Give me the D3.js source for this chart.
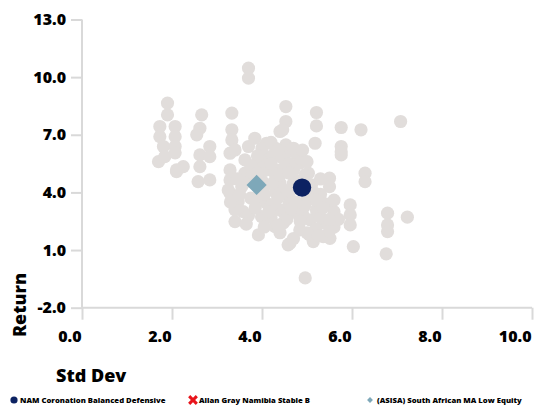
<!DOCTYPE html>
<html><head><meta charset="utf-8">
<script src="https://cdn.jsdelivr.net/npm/d3@7"></script>
<style>
html,body{margin:0;padding:0;background:#fff;}
text{font-family:"Open Sans",sans-serif;font-weight:800;fill:#000;}
</style></head>
<body><svg id="c" width="546" height="410"></svg>
<script>
// ---- data ----
const peerStdDev = [3.70,3.70,1.90,1.90,1.73,2.07,1.73,2.07,1.81,2.07,2.07,1.70,1.84,2.10,2.25,2.66,2.62,2.55,2.62,2.84,2.84,2.62,2.58,2.84,3.33,3.33,3.33,3.29,3.84,4.10,3.70,4.40,4.53,4.53,4.46,5.21,5.21,5.76,6.20,7.08,5.18,5.76,5.76,4.53,4.53,4.84,5.03,5.50,5.50,6.29,6.29,5.96,5.96,5.96,6.03,6.79,6.79,6.79,7.23,6.76,4.96,5.36,5.14,4.62,5.51,3.40,3.92,3.58,3.47,3.29,3.99,4.29,4.58,4.47,4.84,3.84,4.10,4.40,4.77,5.07,5.21,2.10,3.29,3.29,3.25,3.40,3.62,3.62,3.55,3.99,3.96,4.77,4.84,4.40,4.18,4.10,4.40,4.70,4.40,4.70,5.76,4.30,4.60,4.20,4.60,5.00,5.30,5.40,5.60,5.40,5.60,5.20,4.90,4.50,4.20,3.70,4.00,4.30,4.00,4.60,4.30,3.80,3.50,5.10,5.30,5.60,5.70,5.50,5.05,4.40,4.70,3.85,
  4.00,4.20,4.35,4.70,4.90,5.00,4.95,4.20,4.50,3.90,3.75,3.75,4.05,4.25,4.55,4.75,5.15,5.20,4.95,4.75,4.35,4.05,3.75,3.60,3.45,4.15,4.55,4.85,5.30,5.50,5.35,4.35,4.05,3.65,3.40,3.30,4.65,5.00,5.25,4.40,4.60,3.90];
const peerReturn = [10.47,9.95,8.65,8.04,7.43,7.43,6.90,6.90,6.39,6.39,6.06,5.60,5.86,5.08,5.34,8.04,7.34,7.00,5.95,6.39,5.86,5.34,4.56,4.65,8.13,7.26,6.73,6.04,6.82,6.56,6.39,7.17,8.47,7.69,7.26,8.16,7.46,7.38,7.26,7.69,6.56,6.39,6.12,6.47,6.04,5.86,5.00,4.74,4.30,5.00,4.56,3.35,2.83,2.31,1.18,2.92,2.31,1.96,2.71,0.80,-0.45,1.70,1.44,1.35,1.61,2.48,1.79,3.00,3.52,3.96,2.74,2.22,1.27,2.40,2.05,3.61,3.44,3.09,2.92,2.57,3.09,5.17,5.17,4.65,4.13,6.21,5.69,5.00,4.30,6.04,5.34,5.99,5.52,5.86,5.86,5.17,5.17,5.17,4.48,4.48,5.95,4.00,3.80,3.30,3.40,3.60,3.90,3.40,3.00,2.40,2.20,2.10,2.90,2.90,2.70,2.80,4.60,6.30,5.60,5.50,4.90,4.90,3.90,4.40,4.70,3.60,2.60,2.00,1.80,1.90,1.60,3.20,
  6.30,6.60,6.20,6.30,6.20,5.60,4.90,5.50,5.30,5.90,5.40,4.80,4.30,4.50,4.10,4.60,4.00,3.60,3.30,3.50,3.70,3.90,3.70,4.50,4.70,3.00,2.60,2.50,2.70,2.60,3.20,2.30,2.20,2.35,3.10,3.50,3.15,1.90,1.75,4.90,5.00,5.00];
const fundName = "NAM Coronation Balanced Defensive";
const fundPoint = [4.89, 4.25];
const benchName = "Allan Gray Namibia Stable B";
const sectorName = "(ASISA) South African MA Low Equity";
const sectorPoint = [3.88, 4.39];
const xTicks = [0,2,4,6,8,10];
const yTicks = [-2,1,4,7,10,13];
const xTitle = "Std Dev", yTitle = "Return";

// ---- drawing ----
const svg = d3.select("#c");
const x = d3.scaleLinear().domain([0,10]).range([82,532]);
const y = d3.scaleLinear().domain([-2,13]).range([307.7,19.5]);
const axisCol = "#d9d9d9";
const fmt = v => d3.format(".1f")(v).replace("\u2212","-");

const gy = svg.append("g").attr("transform","translate(82,0)")
  .call(d3.axisLeft(y).tickValues(yTicks).tickFormat(fmt).tickSize(11).tickPadding(5));
const gx = svg.append("g").attr("transform","translate(0,307.7)")
  .call(d3.axisBottom(x).tickValues(xTicks).tickFormat(fmt).tickSize(12));
[gy,gx].forEach(g=>{
  g.select(".domain").attr("stroke",axisCol).attr("stroke-width",2);
  g.selectAll(".tick line").attr("stroke",axisCol).attr("stroke-width",2);
  g.selectAll("text").attr("font-family","Open Sans, sans-serif").attr("font-weight",800)
    .attr("font-size",16).attr("fill","#000");
});
gy.select(".domain").attr("d","M0,"+y(13)+"V"+y(-2));
gx.select(".domain").attr("d","M"+x(0)+",0H"+x(10));
gx.selectAll("text").attr("text-anchor","end").attr("x",-1).attr("y",34).attr("dy",0);

svg.append("text").attr("x",56).attr("y",382).attr("font-size",18).text(xTitle);
svg.append("text").attr("transform","translate(26,305) rotate(-90)").attr("text-anchor","middle")
  .attr("font-size",18).text(yTitle);

const peers = peerStdDev.map((d,i)=>[d,peerReturn[i]]);
svg.append("g").selectAll("circle").data(peers).join("circle")
  .attr("cx",d=>x(d[0])).attr("cy",d=>y(d[1])).attr("r",6.6).attr("fill","#e1dddb");

svg.append("path").attr("d",d3.symbol(d3.symbolDiamond2,260)())
  .attr("transform",`translate(${x(sectorPoint[0])},${y(sectorPoint[1])})`).attr("fill","#7ea8b9");
svg.append("circle").attr("cx",x(fundPoint[0])).attr("cy",y(fundPoint[1])).attr("r",9.2).attr("fill","#0c2262");

// legend
const lg = svg.append("g");
const ly = 400;
lg.append("circle").attr("cx",14).attr("cy",ly).attr("r",3.6).attr("fill","#0c2262");
lg.append("text").attr("x",20).attr("y",ly+3).attr("font-size",7.7).text(fundName);
lg.append("path").attr("d",d3.symbol(d3.symbolX,40)()).attr("transform",`translate(193,${ly})`)
  .attr("stroke","#e8141b").attr("stroke-width",3).attr("fill","none");
lg.append("text").attr("x",199).attr("y",ly+3).attr("font-size",7.7).text(benchName);
lg.append("path").attr("d",d3.symbol(d3.symbolDiamond2,22)()).attr("transform",`translate(370,${ly})`).attr("fill","#7ea8b9");
lg.append("text").attr("x",377).attr("y",ly+3).attr("font-size",7.7).text(sectorName);
</script></body></html>
